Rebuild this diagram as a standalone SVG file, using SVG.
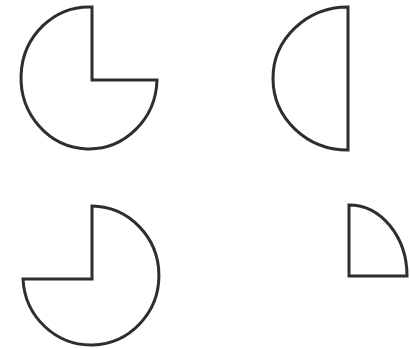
<svg xmlns="http://www.w3.org/2000/svg" width="410" height="348" viewBox="0 0 410 348">
<style>
.s{fill:none;stroke:#2e2e2e;stroke-width:3;stroke-linejoin:miter}
</style>
<rect width="410" height="348" fill="#ffffff"/>
<g id="three-quarter-top"><path class="s" d="M92,7 L92,80 L157,80 A68 71 0 1 1 92 7 Z"/></g>
<g id="half"><path class="s" d="M348,7 L348,150 A75 71.5 0 0 1 348 7 Z"/></g>
<g id="three-quarter-bottom"><path class="s" d="M23,279 L92,279 L92,206 A68 69.5 0 1 1 23 279 Z"/></g>
<g id="quarter"><path class="s" d="M349,205 L349,276 L407,276 A58 71 0 0 0 349 205 Z"/></g>
<g id="connectors"></g>
</svg>
